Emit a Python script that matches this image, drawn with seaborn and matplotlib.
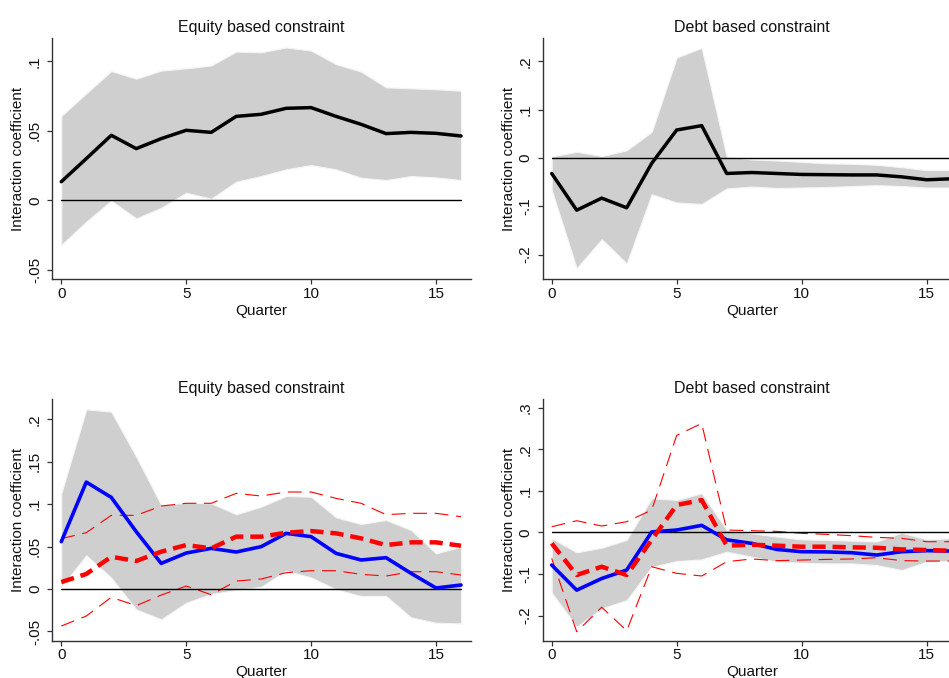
import numpy as np
import pandas as pd
import matplotlib
matplotlib.use("Agg")
import matplotlib.pyplot as plt
from matplotlib.ticker import FuncFormatter
import seaborn as sns

quarters = list(range(17))

# Panel A: equity based constraint (single specification)
eq_coef = [0.0134, 0.030, 0.0468, 0.0372, 0.0444, 0.0504, 0.0489, 0.0604, 0.0619,
           0.0662, 0.0667, 0.0604, 0.0547, 0.048, 0.0489, 0.0482, 0.0463]
eq_hi = [0.0607, 0.077, 0.093, 0.0875, 0.0933, 0.095, 0.097, 0.107, 0.1065,
         0.110, 0.1077, 0.098, 0.0926, 0.0813, 0.0806, 0.0799, 0.0789]
eq_lo = [-0.032, -0.0153, -0.0002, -0.013, -0.0053, 0.0055, 0.0012, 0.0134, 0.0175,
         0.0223, 0.0254, 0.0223, 0.0163, 0.0146, 0.0175, 0.0165, 0.0146]

# Panel B: debt based constraint (single specification)
debt_coef = [-0.032, -0.108, -0.083, -0.103, -0.011, 0.058, 0.067, -0.032, -0.030,
             -0.032, -0.034, -0.0345, -0.035, -0.035, -0.039, -0.045, -0.043]
debt_hi = [0.003, 0.013, 0.004, 0.016, 0.054, 0.208, 0.228, 0.003, -0.003,
           -0.005, -0.008, -0.011, -0.012, -0.014, -0.019, -0.025, -0.025]
debt_lo = [-0.066, -0.228, -0.168, -0.218, -0.075, -0.092, -0.095, -0.063, -0.059,
           -0.062, -0.061, -0.060, -0.058, -0.056, -0.058, -0.061, -0.061]

# Panel C: equity based constraint, two specifications
eq2_blue = [0.0558, 0.126, 0.108, 0.0676, 0.0302, 0.0424, 0.0479, 0.0436, 0.0499,
            0.0656, 0.0617, 0.042, 0.0342, 0.0369, 0.0185, 0.0012, 0.0047]
eq2_blue_hi = [0.1127, 0.2117, 0.209, 0.156, 0.099, 0.1017, 0.101, 0.088, 0.097,
               0.1096, 0.1088, 0.0844, 0.0766, 0.0813, 0.0695, 0.042, 0.0499]
eq2_blue_lo = [0.0027, 0.0397, 0.0134, -0.024, -0.0357, -0.0161, -0.0059, -0.0012, 0.0027,
               0.0216, 0.0137, -0.0004, -0.0082, -0.0082, -0.0334, -0.0397, -0.0405]
eq2_red = [0.0082, 0.0177, 0.038, 0.033, 0.044, 0.0518, 0.0479, 0.0617, 0.0617,
           0.0664, 0.0683, 0.0656, 0.0597, 0.0518, 0.055, 0.055, 0.051]
eq2_red_hi = [0.0593, 0.0664, 0.0868, 0.0868, 0.0978, 0.101, 0.101, 0.1127, 0.1096,
              0.1143, 0.1143, 0.1068, 0.101, 0.0876, 0.0892, 0.0892, 0.0852]
eq2_red_lo = [-0.0436, -0.0318, -0.0098, -0.0196, -0.0071, 0.0035, -0.0067, 0.0094, 0.0118,
              0.0192, 0.0216, 0.0216, 0.0173, 0.0153, 0.0204, 0.0204, 0.0165]

# Panel D: debt based constraint, two specifications
debt2_blue = [-0.0786, -0.139, -0.111, -0.0906, 0.001, 0.0056, 0.0168, -0.018, -0.0265,
              -0.041, -0.0465, -0.047, -0.049, -0.0545, -0.0465, -0.044, -0.045]
debt2_blue_hi = [-0.0144, -0.048, -0.037, -0.018, 0.082, 0.078, 0.094, 0.006, -0.002,
                 -0.010, -0.017, -0.018, -0.020, -0.022, -0.001, -0.017, -0.014]
debt2_blue_lo = [-0.145, -0.227, -0.183, -0.163, -0.083, -0.069, -0.065, -0.0465, -0.0585,
                 -0.0706, -0.073, -0.0746, -0.0746, -0.0786, -0.0906, -0.0706, -0.068]
debt2_red = [-0.0265, -0.1026, -0.0826, -0.1026, -0.018, 0.0658, 0.0778, -0.032, -0.0297,
             -0.032, -0.0345, -0.0345, -0.036, -0.037, -0.041, -0.0425, -0.044]
debt2_red_hi = [0.0136, 0.028, 0.0152, 0.0257, 0.0537, 0.2334, 0.262, 0.0056, 0.004,
                0.0024, -0.0024, -0.0048, -0.008, -0.012, -0.0144, -0.0225, -0.0225]
debt2_red_lo = [-0.0625, -0.239, -0.18, -0.2366, -0.0826, -0.0986, -0.105, -0.0706, -0.064,
                -0.068, -0.0666, -0.065, -0.064, -0.061, -0.068, -0.069, -0.069]

titles = ["Equity based constraint", "Debt based constraint",
          "Equity based constraint", "Debt based constraint"]
x_ticks = [0, 5, 10, 15]
y_ticks = [
    [-0.05, 0, 0.05, 0.1],
    [-0.2, -0.1, 0, 0.1, 0.2],
    [-0.05, 0, 0.05, 0.1, 0.15, 0.2],
    [-0.2, -0.1, 0, 0.1, 0.2, 0.3],
]
y_limits = [(-0.0568, 0.117), (-0.251, 0.249), (-0.0609, 0.2239), (-0.2606, 0.3208)]

sns.set_style("ticks")
plt.rcParams["font.family"] = ["Liberation Sans", "DejaVu Sans"]
plt.rcParams["lines.scale_dashes"] = False

W, H = 949, 678
fig = plt.figure(figsize=(W / 100, H / 100), dpi=100)

# axes boxes in pixels: left, top, right, bottom
boxes = [
    (52.3, 37.7, 471.0, 279.3),
    (542.7, 37.7, 961.7, 279.3),
    (52.3, 399.0, 471.0, 640.7),
    (542.7, 399.0, 961.7, 640.7),
]
axes = []
for (l, t, r, b) in boxes:
    axes.append(fig.add_axes([l / W, 1 - b / H, (r - l) / W, (b - t) / H]))

GRAY = "#cfcfcf"
BLUE = "#0000ff"
RED = "#ff0000"
TEXT = "#111111"


def stata_fmt(v, pos):
    if abs(v) < 1e-12:
        return "0"
    s = f"{v:g}"
    return s.replace("0.", ".")


def band(ax, lo, hi):
    ax.fill_between(quarters, lo, hi, color=GRAY, edgecolor="#f4f4f4", lw=0.8, zorder=1)


def zero_line(ax):
    df = pd.DataFrame({"q": quarters, "z": [0.0] * len(quarters)})
    sns.lineplot(data=df, x="q", y="z", ax=ax, color="black", lw=1.0, zorder=3,
                 errorbar=None)


def line(ax, y, color, lw, ls="-", z=4):
    df = pd.DataFrame({"q": quarters, "v": y})
    sns.lineplot(data=df, x="q", y="v", ax=ax, color=color, lw=lw, linestyle=ls,
                 zorder=z, errorbar=None)


thin_dash = (0, (10, 5.5))
thick_dash = (0, (9.5, 5))

# Panel A
band(axes[0], eq_lo, eq_hi)
zero_line(axes[0])
line(axes[0], eq_coef, "black", 2.5)

# Panel B
band(axes[1], debt_lo, debt_hi)
zero_line(axes[1])
line(axes[1], debt_coef, "black", 2.5)

# Panel C
band(axes[2], eq2_blue_lo, eq2_blue_hi)
line(axes[2], eq2_red_hi, RED, 0.8, thin_dash, z=2)
line(axes[2], eq2_red_lo, RED, 0.8, thin_dash, z=2)
zero_line(axes[2])
line(axes[2], eq2_blue, BLUE, 2.6, z=4)
line(axes[2], eq2_red, RED, 3.2, thick_dash, z=5)

# Panel D
band(axes[3], debt2_blue_lo, debt2_blue_hi)
line(axes[3], debt2_red_hi, RED, 0.8, thin_dash, z=2)
line(axes[3], debt2_red_lo, RED, 0.8, thin_dash, z=2)
zero_line(axes[3])
line(axes[3], debt2_blue, BLUE, 2.6, z=4)
line(axes[3], debt2_red, RED, 3.2, thick_dash, z=5)

for i, ax in enumerate(axes):
    ax.set_xlim(-0.36, 16.4)
    ax.set_ylim(*y_limits[i])
    ax.set_xticks(x_ticks)
    ax.set_yticks(y_ticks[i])
    ax.yaxis.set_major_formatter(FuncFormatter(stata_fmt))
    ax.set_title(titles[i], fontsize=11.5, pad=4, color=TEXT)
    ax.set_xlabel("Quarter", fontsize=11, labelpad=2, color=TEXT)
    ax.set_ylabel("Interaction coefficient", fontsize=11, labelpad=2, color=TEXT)
    ax.tick_params(axis="both", labelsize=11, length=3.5, width=0.9, color="#333333",
                   labelcolor=TEXT, direction="out")
    ax.tick_params(axis="y", pad=4)
    ax.tick_params(axis="x", pad=2)
    for lab in ax.get_yticklabels():
        lab.set_rotation(90)
        lab.set_va("center")
        lab.set_ha("right")
    for side in ["top", "right"]:
        ax.spines[side].set_visible(False)
    for side in ["left", "bottom"]:
        ax.spines[side].set_linewidth(1.0)
        ax.spines[side].set_color("#333333")
    ax.set_facecolor("white")

fig.savefig("out.png", dpi=100, facecolor="white")
